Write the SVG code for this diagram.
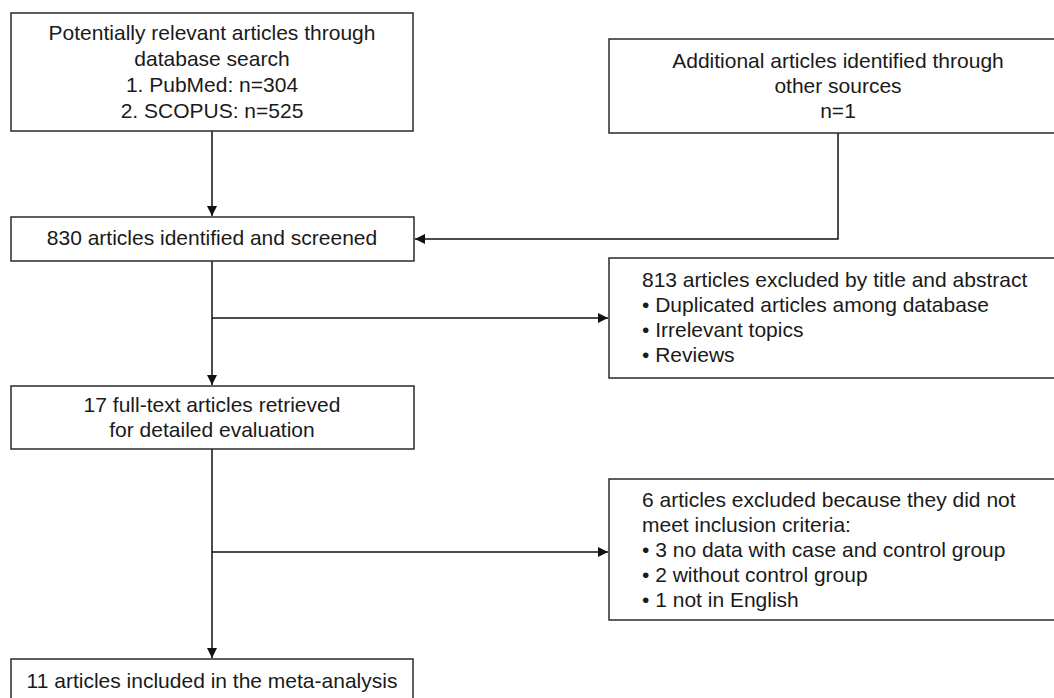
<svg xmlns="http://www.w3.org/2000/svg" width="1054" height="698" viewBox="0 0 1054 698">
<style>
.box{fill:#fff;stroke:#2a2a2a;stroke-width:1.5}
.t{font-family:"Liberation Sans",Arial,sans-serif;font-size:21px;fill:#1a1a1a}
.c{text-anchor:middle}
.ln{fill:none;stroke:#111;stroke-width:1.5}
</style>
<defs>
<marker id="ah" markerWidth="11" markerHeight="11" refX="10" refY="5" orient="auto" markerUnits="userSpaceOnUse">
<path d="M0,0 L10,5 L0,10 z" fill="#111"/>
</marker>
</defs>
<rect width="1054" height="698" fill="#fff"/>
<g id="connectors">
<path class="ln" d="M212,131 V216" marker-end="url(#ah)"/>
<path class="ln" d="M838,133 V239 H415" marker-end="url(#ah)"/>
<path class="ln" d="M212,261 V385" marker-end="url(#ah)"/>
<path class="ln" d="M212,318 H608" marker-end="url(#ah)"/>
<path class="ln" d="M212,449 V658" marker-end="url(#ah)"/>
<path class="ln" d="M212,552 H608" marker-end="url(#ah)"/>
</g>
<g id="n1">
<rect class="box" x="11" y="13" width="402" height="118"/>
<text class="t c" x="212" y="40">Potentially relevant articles through</text>
<text class="t c" x="212" y="66">database search</text>
<text class="t c" x="212" y="92">1. PubMed: n=304</text>
<text class="t c" x="212" y="118">2. SCOPUS: n=525</text>
</g>
<g id="n2">
<rect class="box" x="609" y="39" width="458" height="94"/>
<text class="t c" x="838" y="68">Additional articles identified through</text>
<text class="t c" x="838" y="93">other sources</text>
<text class="t c" x="838" y="118">n=1</text>
</g>
<g id="n3">
<rect class="box" x="11" y="217" width="403" height="44"/>
<text class="t c" x="212" y="245">830 articles identified and screened</text>
</g>
<g id="n4">
<rect class="box" x="609" y="258" width="460" height="120"/>
<text class="t" x="642" y="287">813 articles excluded by title and abstract</text>
<text class="t" x="642" y="312">• Duplicated articles among database</text>
<text class="t" x="642" y="337">• Irrelevant topics</text>
<text class="t" x="642" y="362">• Reviews</text>
</g>
<g id="n5">
<rect class="box" x="11" y="386" width="403" height="63"/>
<text class="t c" x="212" y="412">17 full-text articles retrieved</text>
<text class="t c" x="212" y="437">for detailed evaluation</text>
</g>
<g id="n6">
<rect class="box" x="609" y="479" width="460" height="141"/>
<text class="t" x="642" y="507">6 articles excluded because they did not</text>
<text class="t" x="642" y="532">meet inclusion criteria:</text>
<text class="t" x="642" y="557">• 3 no data with case and control group</text>
<text class="t" x="642" y="582">• 2 without control group</text>
<text class="t" x="642" y="607">• 1 not in English</text>
</g>
<g id="n7">
<rect class="box" x="11" y="659" width="402" height="45"/>
<text class="t c" x="212" y="688">11 articles included in the meta-analysis</text>
</g>
</svg>
